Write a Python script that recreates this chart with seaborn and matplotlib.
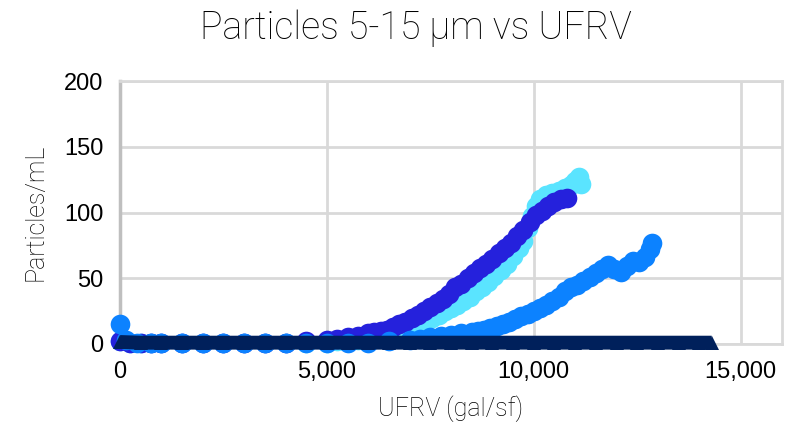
import matplotlib
matplotlib.use("Agg")
import matplotlib.pyplot as plt
import seaborn as sns
import pandas as pd

# ---------------- data ----------------
cyan_x = [0, 250, 500, 750, 1000, 1500, 2000, 2500, 3000, 3500, 4000, 4500, 5000, 5250, 5500,
          5750, 6000, 6250, 6500, 6650, 6800, 6950, 7100, 7250, 7400, 7550, 7700, 7850, 8000,
          8150, 8300, 8450, 8600, 8750, 8900, 9050, 9200, 9350, 9500, 9650, 9750, 9850, 9950,
          10050, 10150, 10300, 10450, 10600, 10750, 10900, 11000, 11100, 11150]
cyan_y = [2, 1, 1, 1, 1, 1, 1, 1, 1, 1, 1, 1, 1, 2, 2,
          3, 4, 5, 6, 8, 10, 12, 14, 16, 18, 20, 22, 25, 27,
          30, 33, 36, 40, 43, 47, 52, 56, 61, 67, 73, 78, 88, 97,
          105, 110, 113, 115, 116, 119, 121, 124, 127, 122]

indigo_x = [0, 250, 500, 750, 1000, 1500, 2000, 2500, 3000, 3500, 4000, 4500, 5000, 5250, 5500,
            5750, 6000, 6150, 6300, 6450, 6600, 6750, 6900, 7050, 7200, 7350, 7500, 7650, 7800,
            7950, 8100, 8250, 8400, 8550, 8700, 8850, 9000, 9150, 9300, 9450, 9600, 9750, 9900,
            10050, 10200, 10350, 10500, 10650, 10800]
indigo_y = [2, 1, 1, 1, 1, 1, 1, 1, 1, 1, 1, 2, 3, 4, 5,
            6, 8, 9, 10, 11, 13, 15, 17, 20, 22, 25, 28, 31, 34,
            38, 43, 46, 50, 54, 58, 61, 65, 69, 73, 77, 82, 87, 93,
            98, 101, 105, 108, 110, 111]

blue_x = [0, 150, 400, 750, 1000, 1500, 2000, 2500, 3000, 3500, 4000, 4500, 5000, 5500, 6000,
          6500, 7000, 7250, 7500, 7750, 8000, 8250, 8500, 8650, 8800, 8950, 9100, 9250, 9400,
          9550, 9700, 9850, 10000, 10150, 10300, 10450, 10600, 10750, 10900, 11050, 11200,
          11350, 11500, 11650, 11800, 11950, 12100, 12250, 12400, 12550, 12700, 12800, 12870]
blue_y = [15, 3, 1, 1, 1, 1, 1, 1, 1, 1, 1, 1, 1, 1, 1,
          2, 3, 4, 5, 6, 7, 8, 9, 10, 11, 12, 14, 15, 17,
          19, 21, 23, 25, 27, 30, 33, 36, 40, 43, 45, 48,
          51, 54, 57, 60, 57, 55, 59, 63, 62, 66, 72, 77]

navy_x = [0, 500, 1000, 1500, 2000, 2500, 3000, 3500, 4000, 4500, 5000, 5500, 6000, 6500, 7000,
          7500, 8000, 8500, 9000, 9500, 10000, 10500, 11000, 11500, 12000, 12500, 13000, 13500,
          14000, 14300]
navy_y = [1.5, 1, 1, 1, 1, 1, 1, 1, 1, 1, 1, 1, 1, 1, 1,
          1, 1, 1, 1, 1, 1, 1, 1, 1, 1, 1, 1, 1, 1, 1]

x_ticks = [0, 5000, 10000, 15000]
x_tick_labels = ["0", "5,000", "10,000", "15,000"]
y_ticks = [0, 50, 100, 150, 200]

title = "Particles 5-15 µm vs UFRV"
x_label = "UFRV (gal/sf)"
y_label = "Particles/mL"

C_CYAN = "#5AE4FF"
C_INDIGO = "#2521DC"
C_BLUE = "#0C82FF"
C_NAVY = "#00205B"

# ---------------- figure ----------------
sns.set_style("white")
plt.rcParams['font.family'] = ['Liberation Sans', 'DejaVu Sans']

fig = plt.figure(figsize=(8.0, 4.28), dpi=100)
ax = fig.add_axes([0.15, 0.1963, 0.8275, 0.6144])

df_c = pd.DataFrame({"x": cyan_x, "y": cyan_y})
df_i = pd.DataFrame({"x": indigo_x, "y": indigo_y})
df_b = pd.DataFrame({"x": blue_x, "y": blue_y})
df_n = pd.DataFrame({"x": navy_x, "y": navy_y})

kw = dict(s=200, linewidth=0, clip_on=False, ax=ax)
sns.scatterplot(data=df_c, x="x", y="y", color=C_CYAN, zorder=3, **kw)
sns.scatterplot(data=df_i, x="x", y="y", color=C_INDIGO, zorder=4, **kw)
sns.scatterplot(data=df_b, x="x", y="y", color=C_BLUE, zorder=5, **kw)
sns.lineplot(data=df_n, x="x", y="y", color=C_NAVY, marker="^", markersize=10,
             markeredgewidth=0, linewidth=10, solid_capstyle="butt",
             zorder=6, clip_on=False, ax=ax)

ax.set_xlim(0, 16000)
ax.set_ylim(0, 200)
ax.set_xticks(x_ticks)
ax.set_xticklabels(x_tick_labels)
ax.set_yticks(y_ticks)
ax.tick_params(axis="both", length=0, labelsize=17, colors="#000000")
ax.tick_params(axis="x", pad=12)
ax.tick_params(axis="y", pad=12)

ax.grid(True, color="#D9D9D9", linewidth=2)
ax.set_axisbelow(True)
for side in ["top", "right", "bottom"]:
    ax.spines[side].set_color("#D9D9D9")
    ax.spines[side].set_linewidth(2)
ax.spines["left"].set_color("#BFBFBF")
ax.spines["left"].set_linewidth(2.5)

lab_font = dict(family=["Roboto", "DejaVu Sans"], weight="light", color="#000000")
ax.set_xlabel(x_label, fontsize=18, labelpad=9, **lab_font)
ax.set_ylabel(y_label, fontsize=18, labelpad=12, **lab_font)
fig.text(0.52, 0.935, title, ha="center", va="center", fontsize=27,
         family=["Roboto", "DejaVu Sans"], weight="light", color="#000000")

fig.savefig("out.png", dpi=100)
